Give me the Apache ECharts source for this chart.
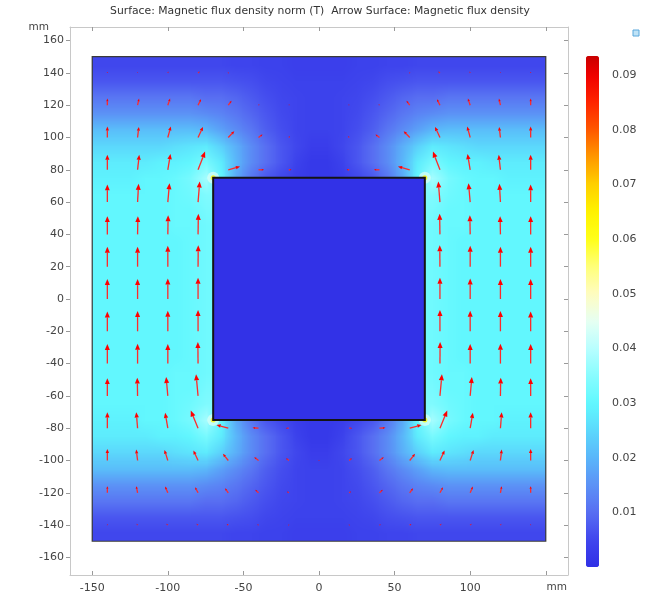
<!DOCTYPE html>
<html><head><meta charset="utf-8">
<script src="https://cdn.jsdelivr.net/npm/echarts@6/dist/echarts.min.js"></script>
<style>html,body{margin:0;padding:0;background:#fff}#c{width:648px;height:598px}</style>
</head><body><div id="c"></div>
<script>
// ---------- data ----------
const titleText = 'Surface: Magnetic flux density norm (T)  Arrow Surface: Magnetic flux density';
const xTicks = [-150, -100, -50, 0, 50, 100, 150];
const xLabels = [-150, -100, -50, 0, 50, 100];
const yTicks = [-160, -140, -120, -100, -80, -60, -40, -20, 0, 20, 40, 60, 80, 100, 120, 140, 160];
const cbTicks = [0.01, 0.02, 0.03, 0.04, 0.05, 0.06, 0.07, 0.08, 0.09];

// surface field: cell centres (mm), values in mT (cells hidden under the block hold estimates)
const fieldX = [-145,-135,-125,-115,-105,-95,-85,-75,-65,-55,-45,-35,-25,-15,-5,5,15,25,35,45,55,65,75,85,95,105,115,125,135,145];
const fieldY = [145,135,125,115,105,95,85,75,65,55,45,35,25,15,5,-5,-15,-25,-35,-45,-55,-65,-75,-85,-95,-105,-115,-125,-135,-145];
const fieldRows = [
[5,5,5,5,5,5,5,5,5,4.5,4.5,4,4,3.5,3.5,3.5,3.5,4,4,4.5,4.5,5,5,5,5,5,5,5,5,5],
[7,7,7,7,7,7,7,7,7,6.5,6,5,4.5,4,4,4,4,4.5,5,6,6.5,7,7,7,7,7,7,7,7,7],
[11,11,11,11,11,11,11,10,10,9,7.5,6,5,4.5,4,4,4.5,5,6,7.5,9,10,10,11,11,11,11,11,11,11],
[15,15,15,15,15,15,15,14,13,11,9,7,5.5,4.5,4,4,4.5,5.5,7,9,11,13,14,15,15,15,15,15,15,15],
[21,21,21,21,21,21,21,20,17,14,11,8,6,4.5,4,4,4.5,6,8,11,14,17,20,21,21,21,21,21,21,21],
[25,25,25,25,25,26,27,28,24,19,14,10,7,5,3,3,5,7,10,14,19,24,28,27,26,25,25,25,25,25],
[28,28,28,28,29,29,30,33,28,20,14,10,7,4,2,2,4,7,10,14,20,28,33,30,29,29,28,28,28,28],
[29,29,29,30,30,31,33,38,30,18,11,7,5,3,2,2,3,5,7,11,18,30,38,33,31,30,30,29,29,29],
[30,30,30,30,30,31,32,34,34,1,1,1,1,1,1,1,1,1,1,1,1,34,34,32,31,30,30,30,30,30],
[30,30,30,30,30,31,31,33,33,1,1,1,1,1,1,1,1,1,1,1,1,33,33,31,31,30,30,30,30,30],
[30,30,30,30,30,31,31,32,32,1,1,1,1,1,1,1,1,1,1,1,1,32,32,31,31,30,30,30,30,30],
[30,30,30,30,30,30,31,32,32,1,1,1,1,1,1,1,1,1,1,1,1,32,32,31,30,30,30,30,30,30],
[30,30,30,30,30,30,31,32,32,1,1,1,1,1,1,1,1,1,1,1,1,32,32,31,30,30,30,30,30,30],
[30,30,30,30,30,30,31,32,32,1,1,1,1,1,1,1,1,1,1,1,1,32,32,31,30,30,30,30,30,30],
[30,30,30,30,30,30,31,32,32,1,1,1,1,1,1,1,1,1,1,1,1,32,32,31,30,30,30,30,30,30],
[30,30,30,30,30,30,31,32,32,1,1,1,1,1,1,1,1,1,1,1,1,32,32,31,30,30,30,30,30,30],
[30,30,30,30,30,30,31,32,32,1,1,1,1,1,1,1,1,1,1,1,1,32,32,31,30,30,30,30,30,30],
[30,30,30,30,30,30,31,32,32,1,1,1,1,1,1,1,1,1,1,1,1,32,32,31,30,30,30,30,30,30],
[30,30,30,30,30,30,31,32,32,1,1,1,1,1,1,1,1,1,1,1,1,32,32,31,30,30,30,30,30,30],
[30,30,30,30,30,31,31,32,32,1,1,1,1,1,1,1,1,1,1,1,1,32,32,31,31,30,30,30,30,30],
[30,30,30,30,30,31,31,33,33,1,1,1,1,1,1,1,1,1,1,1,1,33,33,31,31,30,30,30,30,30],
[30,30,30,30,30,31,32,34,34,1,1,1,1,1,1,1,1,1,1,1,1,34,34,32,31,30,30,30,30,30],
[29,29,29,30,30,31,33,38,30,18,11,7,5,3,2,2,3,5,7,11,18,30,38,33,31,30,30,29,29,29],
[28,28,28,28,29,29,30,33,28,20,14,10,7,4,2,2,4,7,10,14,20,28,33,30,29,29,28,28,28,28],
[25,25,25,25,25,26,27,28,24,19,14,10,7,5,3,3,5,7,10,14,19,24,28,27,26,25,25,25,25,25],
[21,21,21,21,21,21,21,20,17,14,11,8,6,4.5,4,4,4.5,6,8,11,14,17,20,21,21,21,21,21,21,21],
[15,15,15,15,15,15,15,14,13,11,9,7,5.5,4.5,4,4,4.5,5.5,7,9,11,13,14,15,15,15,15,15,15,15],
[11,11,11,11,11,11,11,10,10,9,7.5,6,5,4.5,4,4,4.5,5,6,7.5,9,10,10,11,11,11,11,11,11,11],
[7,7,7,7,7,7,7,7,7,6.5,6,5,4.5,4,4,4,4,4.5,5,6,6.5,7,7,7,7,7,7,7,7,7],
[5,5,5,5,5,5,5,5,5,4.5,4.5,4,4,3.5,3.5,3.5,3.5,4,4,4.5,4.5,5,5,5,5,5,5,5,5,5]
];

// arrow grid (mm) and in-plane flux density components (mT)
const arrowX = [-140,-120,-100,-80,-60,-40,-20,0,20,40,60,80,100,120,140];
const arrowY = [140,120,100,80,60,40,20,0,-20,-40,-60,-80,-100,-120,-140];
const arrowBx = [
[0,0.3,1,3,1,0.5,0.3,0,-0.3,-0.5,-1,-3,-1,-0.3,0],
[0,2.4,3.7,4.8,5.3,1.5,1.5,0,-1.5,-1.5,-5.3,-4.8,-3.7,-2.4,0],
[0,2,4.8,8,9.7,6.5,2,0,-2,-6.5,-9.7,-8,-4.8,-2,0],
[0,2.7,4.3,11.3,19,9,4.3,0,-4.3,-9,-19,-11.3,-4.3,-2.7,0],
[0,1.6,2.7,2.7,0,0,0,0,0,0,0,-2.7,-2.7,-1.6,0],
[0,0.5,0.5,0.5,0,0,0,0,0,0,0,-0.5,-0.5,-0.5,0],
[0,0,0,0.3,0,0,0,0,0,0,0,-0.3,0,0,0],
[0,0,0,0,0,0,0,0,0,0,0,0,0,0,0],
[0,0,0,0,0,0,0,0,0,0,0,0,0,0,0],
[0,0,0,-0.3,0,0,0,0,0,0,0,0.3,0,0,0],
[0,-0.5,-2.7,-3.2,0,0,0,0,0,0,0,3.2,2.7,0.5,0],
[0,-2.1,-4.3,-11.8,-19,-9.7,-4.8,0,4.8,9.7,19,11.8,4.3,2.1,0],
[0,-2.1,-5.4,-7.5,-8.6,-7,-4.3,0,4.3,7,8.6,7.5,5.4,2.1,0],
[0,-2.1,-4.3,-4.8,-5.4,-5.4,-3,0,3,5.4,5.4,4.8,4.3,2.1,0],
[-0.5,-1.6,-2.4,-2.7,-2.7,-2.2,-1,0,1,2.2,2.7,2.7,2.4,1.6,0.5]
];
const arrowBy = [
[1.5,1.5,2,2,0.5,0.3,0,0,0,0.3,0.5,2,2,1.5,1.5],
[10,10,10,9,6.5,1.5,1,0.5,1,1.5,6.5,9,10,10,10],
[16.5,16,16.5,16,9.5,4.5,2,0.5,2,4.5,9.5,16,16.5,16,16.5],
[22.5,22.5,24,27.5,5,0,0,0,0,0,5,27.5,24,22.5,22.5],
[26.5,27.5,28.5,31,0,0,0,0,0,0,0,31,28.5,27.5,26.5],
[27.5,27.5,29,31,0,0,0,0,0,0,0,31,29,27.5,27.5],
[30,30,31.5,32.5,0,0,0,0,0,0,0,32.5,31.5,30,30],
[30,30,31,32,0,0,0,0,0,0,0,32,31,30,30],
[30,30.5,31,32,0,0,0,0,0,0,0,32,31,30.5,30],
[29.5,30,29.5,32.5,0,0,0,0,0,0,0,32.5,29.5,30,29.5],
[26.5,27.5,28.5,32.5,0,0,0,0,0,0,0,32.5,28.5,27.5,26.5],
[24,24,23.5,26.6,5,0.5,0,0,0,0.5,5,26.6,23.5,24,24],
[17.5,16.5,16,15,10,5,3.5,1,3.5,5,10,15,16,16.5,17.5],
[10,10,9.5,8.5,7,4.5,2,0.5,2,4.5,7,8.5,9.5,10,10],
[1.5,2,2,2,1.5,1,0.5,0,0.5,1,1.5,2,2,2,1.5]
];

// geometry (mm)
const domainX = [-150, 150];
const domainY = [-150, 150];
const blockX = [-70, 70];
const blockY = [-75, 75];
const blockValue = 0.0006;          // T
const cornerX = [-70, 70, -70, 70];
const cornerY = [75, 75, -75, -75];
const cornerGlowValue = 0.044;      // T
const cornerCoreValue = 0.064;      // T

// ---------- styles ----------
const cellSize = 10;                 // mm (data grid resolution)
const arrowScale = 0.41;             // mm per mT
const FONT = 'DejaVu Sans';
const cbMax = 0.0935;
const colorStops = [
  [0.000,'#3030e6'],[0.005,'#4046ee'],[0.010,'#586ef2'],[0.015,'#5c92f6'],[0.020,'#5ab6fa'],
  [0.025,'#5cd8fc'],[0.030,'#60f8fe'],[0.035,'#88fcfe'],[0.040,'#b8feff'],[0.045,'#e6fff2'],
  [0.050,'#fffcc0'],[0.055,'#ffff78'],[0.060,'#ffff18'],[0.065,'#fff200'],[0.070,'#ffd000'],
  [0.075,'#ff9800'],[0.080,'#ff5800'],[0.085,'#ff2400'],[0.090,'#f00000'],[0.0935,'#c80000']
];
function hex(c){return [parseInt(c.slice(1,3),16),parseInt(c.slice(3,5),16),parseInt(c.slice(5,7),16)];}
function sampleStops(v){
  for(let i=1;i<colorStops.length;i++){
    if(v<=colorStops[i][0]+1e-12){
      const a=colorStops[i-1],b=colorStops[i];const t=(v-a[0])/(b[0]-a[0]);
      const ca=hex(a[1]),cb=hex(b[1]);
      return 'rgb('+ca.map((q,k)=>Math.round(q+(cb[k]-q)*t)).join(',')+')';
    }
  }
  return colorStops[colorStops.length-1][1];
}
const paletteSteps = 120;
const palette = [];
for(let i=0;i<=paletteSteps;i++) palette.push(sampleStops(cbMax*i/paletteSteps));

// ---------- build series data ----------
const fieldData = [];
fieldRows.forEach((row,i)=>row.forEach((v,j)=>fieldData.push([fieldX[j], fieldY[i], v/1000])));
const arrowData = [];
arrowY.forEach((y,i)=>arrowX.forEach((x,j)=>arrowData.push([x, y, arrowBx[i][j], arrowBy[i][j]])));
const glowData = cornerX.map((x,i)=>[x, cornerY[i], cornerGlowValue]);
const coreData = cornerX.map((x,i)=>[x, cornerY[i], cornerCoreValue]);
const blockData = [[blockX[0], blockY[0], blockValue, blockX[1], blockY[1]]];
const domainData = [[domainX[0], domainY[0], 0, domainX[1], domainY[1]]];

// texture: one texel per field cell, coloured by the visualMap; the canvas
// smooths between cell centres when it is stretched over the domain.
const nCols = fieldX.length, nRows = fieldY.length;
const tex = document.createElement('canvas');
tex.width = nCols; tex.height = nRows;
const tctx = tex.getContext('2d');

const chart = echarts.init(document.getElementById('c'), null, {renderer:'canvas'});
const axisLineStyle = {color:'#c8c8c8', width:1};
const tickStyle = {color:'#9a9a9a', width:1};
const labelStyle = {color:'#444', fontSize:11, fontFamily:FONT};
const XMIN=-164.7, XMAX=164.7, YMIN=-170.9, YMAX=168.4;

function rectFrom(api, x0, y0, x1, y1){
  const a = api.coord([x0, y1]), b = api.coord([x1, y0]);
  return {x:a[0], y:a[1], width:b[0]-a[0], height:b[1]-a[1]};
}

chart.setOption({
  animation:false,
  backgroundColor:'#fff',
  graphic:[
    {type:'text', x:320, y:6, style:{text:titleText, fill:'#333', font:'10.8px "'+FONT+'"', align:'center'}},
    {type:'text', x:49, y:22, style:{text:'mm', fill:'#444', font:'10.5px "'+FONT+'"', align:'right'}},
    {type:'text', x:567, y:582, style:{text:'mm', fill:'#444', font:'10.5px "'+FONT+'"', align:'right'}},
    {type:'rect', shape:{x:633, y:30, width:6, height:6}, style:{fill:'#bfe3f7', stroke:'#5aa8dc', lineWidth:1}}
  ],
  grid:[
    {left:70, top:27, width:498, height:548, show:false},
    {left:586, top:56, width:13, height:511, show:false}
  ],
  xAxis:[
    {gridIndex:0, type:'value', position:'bottom', min:XMIN, max:XMAX,
     axisLine:{show:true, onZero:false, lineStyle:axisLineStyle},
     axisTick:{show:true, inside:true, length:4, lineStyle:tickStyle, customValues:xTicks},
     axisLabel:{show:true, customValues:xLabels, margin:8, ...labelStyle},
     splitLine:{show:false}},
    {gridIndex:0, type:'value', position:'top', min:XMIN, max:XMAX,
     axisLine:{show:true, onZero:false, lineStyle:axisLineStyle},
     axisTick:{show:true, inside:true, length:4, lineStyle:tickStyle, customValues:xTicks},
     axisLabel:{show:false}, splitLine:{show:false}},
    {gridIndex:1, type:'value', show:false, min:0, max:1}
  ],
  yAxis:[
    {gridIndex:0, type:'value', position:'left', min:YMIN, max:YMAX,
     axisLine:{show:true, onZero:false, lineStyle:axisLineStyle},
     axisTick:{show:true, inside:false, length:4, lineStyle:tickStyle, customValues:yTicks},
     axisLabel:{show:true, customValues:yTicks, margin:6, ...labelStyle},
     splitLine:{show:false}},
    {gridIndex:0, type:'value', position:'right', min:YMIN, max:YMAX,
     axisLine:{show:true, onZero:false, lineStyle:axisLineStyle},
     axisTick:{show:true, inside:true, length:4, lineStyle:tickStyle, customValues:yTicks},
     axisLabel:{show:false}, splitLine:{show:false}},
    {gridIndex:1, type:'value', position:'left', min:0, max:cbMax,
     axisLine:{show:false, onZero:false},
     axisTick:{show:true, inside:true, length:3, lineStyle:{color:'#333', width:1}, customValues:cbTicks},
     axisLabel:{show:false}, splitLine:{show:false}},
    {gridIndex:1, type:'value', position:'right', min:0, max:cbMax,
     axisLine:{show:false, onZero:false},
     axisTick:{show:true, inside:true, length:3, lineStyle:{color:'#333', width:1}, customValues:cbTicks},
     axisLabel:{show:true, customValues:cbTicks, margin:13, formatter:v=>v.toFixed(2), ...labelStyle},
     splitLine:{show:false}}
  ],
  visualMap:[{
    type:'continuous', min:0, max:cbMax, dimension:2, seriesIndex:[0,1,2,3],
    calculable:false, realtime:false, orient:'vertical', left:586, top:56, padding:0,
    itemWidth:13, itemHeight:511, text:null, showLabel:false,
    inRange:{color:palette}, outOfRange:{color:palette}
  }],
  series:[
    {name:'field', type:'custom', coordinateSystem:'cartesian2d', xAxisIndex:0, yAxisIndex:0, z:1,
     data:fieldData, silent:true,
     renderItem:function(params, api){
       const x=api.value(0), y=api.value(1);
       const j=Math.round((x-domainX[0]-cellSize/2)/cellSize);
       const i=Math.round((domainY[1]-cellSize/2-y)/cellSize);
       tctx.fillStyle=api.visual('color');
       tctx.fillRect(j, i, 1, 1);
       if(params.dataIndex !== fieldData.length-1) return null;
       const r=rectFrom(api, domainX[0], domainY[0], domainX[1], domainY[1]);
       return {type:'image', style:{image:tex, x:r.x, y:r.y, width:r.width, height:r.height}};
     }},
    {name:'corner glow', type:'scatter', xAxisIndex:0, yAxisIndex:0, z:2, data:glowData,
     symbolSize:12, itemStyle:{opacity:0.7}, silent:true},
    {name:'corner peak', type:'scatter', xAxisIndex:0, yAxisIndex:0, z:3, data:coreData,
     symbolSize:5, silent:true},
    {name:'block', type:'custom', coordinateSystem:'cartesian2d', xAxisIndex:0, yAxisIndex:0, z:4,
     data:blockData, silent:true,
     renderItem:function(params, api){
       const r=rectFrom(api, api.value(0), api.value(1), api.value(3), api.value(4));
       return {type:'rect', shape:r, style:{fill:api.visual('color'), stroke:'#141414', lineWidth:2}};
     }},
    {name:'domain', type:'custom', coordinateSystem:'cartesian2d', xAxisIndex:0, yAxisIndex:0, z:5,
     data:domainData, silent:true,
     renderItem:function(params, api){
       const r=rectFrom(api, api.value(0), api.value(1), api.value(3), api.value(4));
       return {type:'rect', shape:r, style:{fill:null, stroke:'#3a3a3a', lineWidth:1.2}};
     }},
    {name:'arrows', type:'custom', coordinateSystem:'cartesian2d', xAxisIndex:0, yAxisIndex:0, z:6,
     data:arrowData, silent:true,
     renderItem:function(params, api){
       const x=api.value(0), y=api.value(1), bx=api.value(2), by=api.value(3);
       const p0=api.coord([x,y]);
       const p1=api.coord([x+arrowScale*bx, y+arrowScale*by]);
       const dx=p1[0]-p0[0], dy=p1[1]-p0[1], L=Math.hypot(dx,dy);
       if(L<0.4) return null;
       const ux=dx/L, uy=dy/L;
       const hl=Math.min(6, 0.28*L+0.8), hw=hl*0.42;
       const qx=p1[0]-ux*hl, qy=p1[1]-uy*hl;
       return {type:'group', children:[
         {type:'line', shape:{x1:p0[0], y1:p0[1], x2:qx, y2:qy}, style:{stroke:'#ff2a2a', lineWidth:1.3}},
         {type:'polygon', shape:{points:[[p1[0],p1[1]],[qx-uy*hw, qy+ux*hw],[qx+uy*hw, qy-ux*hw]]}, style:{fill:'#ff0000'}}
       ]};
     }}
  ]
});
</script></body></html>
